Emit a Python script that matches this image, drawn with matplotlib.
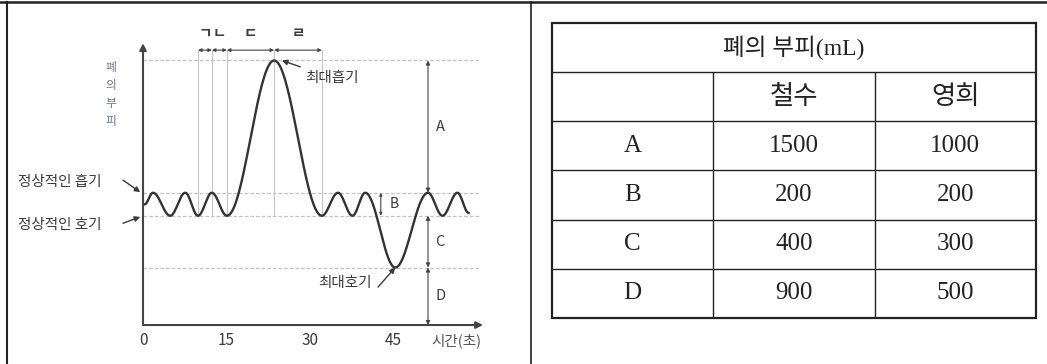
import numpy as np
import matplotlib.pyplot as plt
from matplotlib.lines import Line2D
from matplotlib.patches import Rectangle

plt.rcParams['font.family'] = ['Noto Sans CJK KR', 'DejaVu Sans']

# spirogram turning points: time (s) and lung volume (arbitrary units)
turn_t = [0.3, 1.8, 4.9, 7.6, 9.9, 12.4, 15.1, 23.6, 32.2, 35.1, 37.7, 40.0,
          45.4, 51.3, 53.9, 56.6, 58.6]
turn_v = [2.1, 2.3, 1.9, 2.3, 1.9, 2.3, 1.9, 4.6, 1.9, 2.3, 1.9, 2.3,
          1.0, 2.3, 1.9, 2.3, 1.95]

# reference volume levels
max_insp = 4.6
norm_insp = 2.3
norm_exp = 1.9
max_exp = 1.0

x_ticks = [0, 15, 30, 45]
phase_names = ['ㄱ', 'ㄴ', 'ㄷ', 'ㄹ']
phase_edges = [9.9, 12.4, 15.1, 23.6, 32.2]

# table data
table_title = '폐의 부피(mL)'
people = ['철수', '영희']
row_names = ['A', 'B', 'C', 'D']
chulsu = [1500, 200, 400, 900]
younghee = [1000, 200, 300, 500]

INK = '#3a3a3a'
GUIDE = '#c4c4c4'


def smooth_curve(ts, vs, n=40):
    # cosine easing between successive turning points
    xs, ys = [], []
    for i in range(len(ts) - 1):
        s = np.linspace(0, 1, n)
        w = (1 - np.cos(np.pi * s)) / 2
        xs.append(ts[i] + (ts[i + 1] - ts[i]) * s)
        ys.append(vs[i] + (vs[i + 1] - vs[i]) * w)
    return np.concatenate(xs), np.concatenate(ys)


def double_arrow(ax, p0, p1, size=6):
    ax.annotate('', xy=p1, xytext=p0,
                arrowprops=dict(arrowstyle='<|-|>', mutation_scale=size, lw=0.8,
                                color='#444', shrinkA=0, shrinkB=0))


def pointer(ax, text, xy, xytext, text_xy, ha='left'):
    ax.annotate('', xy=xy, xytext=xytext,
                arrowprops=dict(arrowstyle='-|>', mutation_scale=8, lw=1.0,
                                color=INK, shrinkA=0, shrinkB=0))
    ax.text(text_xy[0], text_xy[1], text, ha=ha, va='center', fontsize=10.5,
            color=INK, fontweight='medium')


fig = plt.figure(figsize=(10.47, 3.64), dpi=100)

# outer frame
fig.add_artist(Line2D([0, 1], [0.9945, 0.9945], color='#222', lw=1.8))
fig.add_artist(Line2D([0.0067, 0.0067], [0, 0.9945], color='#222', lw=1.5))
fig.add_artist(Line2D([0.5072, 0.5072], [0, 0.9945], color='#222', lw=1.2))

# ---- spirogram ----
ax = fig.add_axes([0.00955, 0.0055, 0.4919, 0.9808])
ax.set_xlim(-23.94, 68.76)
ax.set_ylim(-0.643, 5.565)
ax.axis('off')

ax.hlines([max_insp, norm_insp, norm_exp, max_exp], 0, 60.5, colors=GUIDE,
          lw=0.9, linestyles=(0, (3, 1.5)))
ax.vlines(phase_edges, norm_exp, 4.78, colors=GUIDE, lw=0.8)

cx, cy = smooth_curve(turn_t, turn_v)
ax.plot(cx, cy, color='#333', lw=1.7)

# axes with arrow heads
ax.annotate('', xy=(0, 4.9), xytext=(0, 0),
            arrowprops=dict(arrowstyle='-|>', mutation_scale=10, lw=1.5,
                            color='#444', shrinkA=0, shrinkB=0))
ax.annotate('', xy=(61.2, 0), xytext=(0, 0),
            arrowprops=dict(arrowstyle='-|>', mutation_scale=10, lw=1.5,
                            color='#444', shrinkA=0, shrinkB=0))
for t in x_ticks:
    ax.text(t, -0.27, str(t), ha='center', va='center', fontsize=11, color=INK)
ax.text(56.5, -0.27, '시간(초)', ha='center', va='center', fontsize=10.5,
        color='#555')
ax.text(-5.8, 4.0, '폐\n의\n부\n피', ha='center', va='center', fontsize=8.5,
        color='#6a7a90', linespacing=1.5, fontweight='medium')

# phase intervals on top
for i, name in enumerate(phase_names):
    double_arrow(ax, (phase_edges[i], 4.78), (phase_edges[i + 1], 4.78), size=5)
    ax.text((phase_edges[i] + phase_edges[i + 1]) / 2, 5.08, name,
            ha='center', va='center', fontsize=10.5, color=INK,
            fontweight='bold')

# volume brackets
bx = 51.3
double_arrow(ax, (bx, norm_insp), (bx, max_insp))
double_arrow(ax, (42.8, norm_exp), (42.8, norm_insp), size=4)
double_arrow(ax, (bx, max_exp), (bx, norm_exp))
double_arrow(ax, (bx, 0), (bx, max_exp))
ax.text(bx + 2.2, (norm_insp + max_insp) / 2, 'A', ha='center', va='center',
        fontsize=10.5, color=INK)
ax.text(45.3, (norm_exp + norm_insp) / 2, 'B', ha='center', va='center',
        fontsize=10, color=INK)
ax.text(bx + 2.2, (max_exp + norm_exp) / 2, 'C', ha='center', va='center',
        fontsize=10.5, color=INK)
ax.text(bx + 2.2, max_exp / 2, 'D', ha='center', va='center',
        fontsize=10.5, color=INK)

# annotations
pointer(ax, '최대흡기', (25.0, max_insp), (28.3, 4.49), (29.2, 4.3))
pointer(ax, '최대호기', (45.4, max_exp), (42.3, 0.66), (41.2, 0.73), ha='right')
pointer(ax, '정상적인 흡기', (-0.5, 2.31), (-3.6, 2.52), (-22.5, 2.49))
pointer(ax, '정상적인 호기', (-0.5, 1.88), (-3.6, 1.77), (-22.5, 1.74))

# ---- table ----
tx = fig.add_axes([0.5272, 0.1264, 0.4623, 0.8104])
tx.set_xlim(0, 3)
tx.set_ylim(6, 0)
tx.axis('off')
tx.add_patch(Rectangle((0, 0), 3, 6, fill=False, lw=1.6, ec='#222',
                       clip_on=False))
tx.hlines([1, 2, 3, 4, 5], 0, 3, colors='#222', lw=1.0)
tx.vlines([1, 2], 1, 6, colors='#222', lw=1.0)

serif = ['Liberation Serif', 'Noto Sans CJK KR']
tx.text(1.5, 0.5, table_title, ha='center', va='center', fontsize=17,
        family=serif, color='#222', fontweight='light')
for j, name in enumerate(people):
    tx.text(1.5 + j, 1.5, name, ha='center', va='center', fontsize=19,
            family=serif, color='#222', fontweight='light')
for i, name in enumerate(row_names):
    tx.text(0.5, 2.5 + i, name, ha='center', va='center', fontsize=18,
            family=serif, color='#222')
    tx.text(1.5, 2.5 + i, str(chulsu[i]), ha='center', va='center',
            fontsize=18, family=serif, color='#222')
    tx.text(2.5, 2.5 + i, str(younghee[i]), ha='center', va='center',
            fontsize=18, family=serif, color='#222')

fig.savefig('out.png', dpi=100)
